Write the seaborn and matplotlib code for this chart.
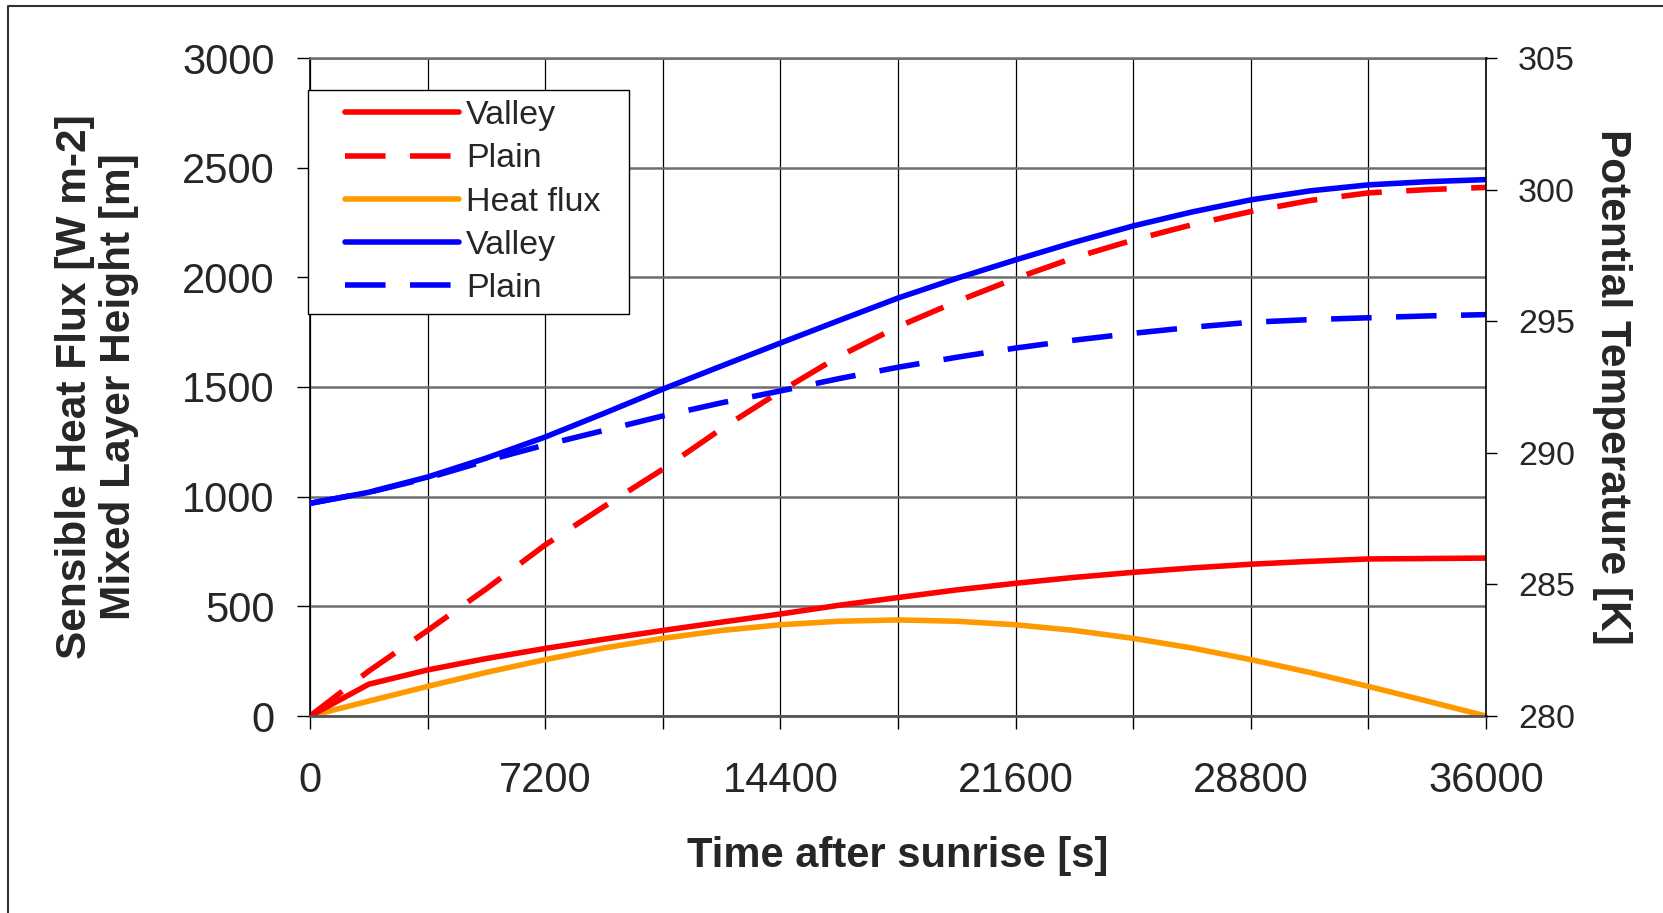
import matplotlib
matplotlib.use("Agg")
import matplotlib.pyplot as plt
import seaborn as sns
import numpy as np
from matplotlib.lines import Line2D
from matplotlib.legend_handler import HandlerLine2D

# ---------------- data ----------------
time_s = [0, 1800, 3600, 5400, 7200, 9000, 10800, 12600, 14400, 16200, 18000,
          19800, 21600, 23400, 25200, 27000, 28800, 30600, 32400, 34200, 36000]

# left axis: mixed layer height [m]
mlh_valley = [0, 145, 210, 262, 308, 350, 390, 428, 465, 505, 540,
              575, 605, 632, 655, 675, 692, 705, 716, 718, 720]
mlh_plain = [0, 205, 390, 580, 780, 955, 1125, 1310, 1480, 1640, 1775,
             1890, 1995, 2090, 2170, 2240, 2300, 2350, 2385, 2400, 2410]
# left axis: sensible heat flux [W m-2]
heat_flux = [0, 68, 135, 199, 257, 310, 354, 390, 416, 432, 438,
             432, 416, 390, 354, 310, 257, 199, 135, 68, 0]
# right axis: potential temperature [K]
theta_valley = [288.08, 288.5, 289.08, 289.8, 290.6, 291.5, 292.42, 293.3, 294.17, 295.03, 295.88,
                296.63, 297.33, 298.0, 298.62, 299.15, 299.61, 299.95, 300.18, 300.3, 300.38]
theta_plain = [288.08, 288.5, 289.04, 289.7, 290.3, 290.85, 291.4, 291.9, 292.35, 292.82, 293.25,
               293.63, 293.98, 294.28, 294.54, 294.77, 294.96, 295.06, 295.13, 295.2, 295.25]

legend_labels = ["Valley", "Plain", "Heat flux", "Valley", "Plain"]
x_major_ticks = [0, 7200, 14400, 21600, 28800, 36000]
x_minor_ticks = [3600, 10800, 18000, 25200, 32400]
y_left_ticks = [0, 500, 1000, 1500, 2000, 2500, 3000]
y_right_ticks = [280, 285, 290, 295, 300, 305]

# ---------------- style ----------------
sns.set_theme(style="white")
plt.rcParams["font.family"] = ["Liberation Sans", "DejaVu Sans"]

RED = "#FF0000"
ORANGE = "#FF9900"
BLUE = "#0000FF"
LW = 4.0
DASH = [7.3, 4.4]

fig = plt.figure(figsize=(16.63, 9.13), dpi=100)
ax = fig.add_axes([310 / 1663, 1 - 716 / 913, 1176 / 1663, 658 / 913])
ax2 = ax.twinx()

# ---------------- lines ----------------
sns.lineplot(x=time_s, y=heat_flux, ax=ax, color=ORANGE, linewidth=LW, legend=False)
l_hf = ax.lines[-1]
sns.lineplot(x=time_s, y=mlh_valley, ax=ax, color=RED, linewidth=LW, legend=False)
l_rv = ax.lines[-1]
sns.lineplot(x=time_s, y=mlh_plain, ax=ax, color=RED, linewidth=LW, legend=False)
l_rp = ax.lines[-1]
l_rp.set_dashes(DASH)

sns.lineplot(x=time_s, y=theta_valley, ax=ax2, color=BLUE, linewidth=LW, legend=False)
l_bv = ax2.lines[-1]
sns.lineplot(x=time_s, y=theta_plain, ax=ax2, color=BLUE, linewidth=LW, legend=False)
l_bp = ax2.lines[-1]
l_bp.set_dashes(DASH)

# ---------------- axes ----------------
ax.set_xlim(0, 36000)
ax.set_ylim(0, 3000)
ax2.set_ylim(280, 305)

ax.set_xticks(x_major_ticks)
ax.set_xticklabels([str(v) for v in x_major_ticks])
ax.set_xticks(x_minor_ticks, minor=True)
ax.set_yticks(y_left_ticks)
ax.set_yticklabels([str(v) for v in y_left_ticks])
ax2.set_yticks(y_right_ticks)
ax2.set_yticklabels([str(v) for v in y_right_ticks])

ax.xaxis.grid(True, which="both", color="black", lw=0.9)
ax.yaxis.grid(True, which="major", color="#6e6e6e", lw=1.8)
ax.set_axisbelow(True)
ax2.grid(False)

ax.tick_params(axis="x", which="both", direction="out", length=9.5, width=1.0,
               color="black", labelsize=30, pad=23, bottom=True)
ax.tick_params(axis="y", which="major", direction="out", length=9.5, width=1.0,
               color="black", labelsize=30, pad=16, left=True)
ax2.tick_params(axis="y", which="major", direction="out", length=8, width=1.0,
                color="black", labelsize=24.5, pad=15, right=True)

ax.spines["left"].set_color("black")
ax.spines["left"].set_linewidth(1.2)
ax.spines["bottom"].set_color("#555555")
ax.spines["bottom"].set_linewidth(2.0)
ax.spines["top"].set_color("#6e6e6e")
ax.spines["top"].set_linewidth(1.8)
ax.spines["right"].set_visible(False)
for sp in ["left", "top", "bottom"]:
    ax2.spines[sp].set_visible(False)
ax2.spines["right"].set_color("black")
ax2.spines["right"].set_linewidth(1.2)

ax.set_xlabel("Time after sunrise [s]", fontsize=30, fontweight="bold", va="center")
ax.xaxis.set_label_coords(0.5, (716 - 856) / 658)
ax.set_ylabel("Sensible Heat Flux [W m-2]\nMixed Layer Height [m]", fontsize=30.5,
              fontweight="bold", va="center", multialignment="center", linespacing=1.15)
ax.yaxis.set_label_coords((97 - 310) / 1176, 0.5)
ax2.set_ylabel("Potential Temperature [K]", fontsize=30.5, fontweight="bold",
               rotation=270, va="center")
ax2.yaxis.set_label_coords((1612 - 310) / 1176, 0.5)

# ---------------- legend ----------------
fs_leg = 24.5
fs_px = fs_leg * 100 / 72
xpad_px = 27
handles = [l_rv, l_rp, l_hf, l_bv, l_bp]
top_ax = (716 - 90) / 658
leg = ax2.legend(handles, legend_labels, loc="upper left",
                 bbox_to_anchor=(-0.002, top_ax - 0.01, 321 / 1176, 0.01),
                 mode="expand", borderaxespad=0, fontsize=fs_leg,
                 frameon=True, fancybox=False, edgecolor="black", framealpha=1,
                 handlelength=(xpad_px + 114) / fs_px, handletextpad=0.22,
                 labelspacing=0.36, borderpad=0.3,
                 handler_map={Line2D: HandlerLine2D(xpad=xpad_px / fs_px)})
leg.get_frame().set_linewidth(1.0)
leg.set_zorder(10)

# ---------------- figure border ----------------
fig.add_artist(Line2D([8 / 1663, 8 / 1663, 1.01], [-0.01, 1 - 6 / 913, 1 - 6 / 913],
                      transform=fig.transFigure, color="#333333", lw=1.5))

fig.savefig("out.png", dpi=100, facecolor="white")
